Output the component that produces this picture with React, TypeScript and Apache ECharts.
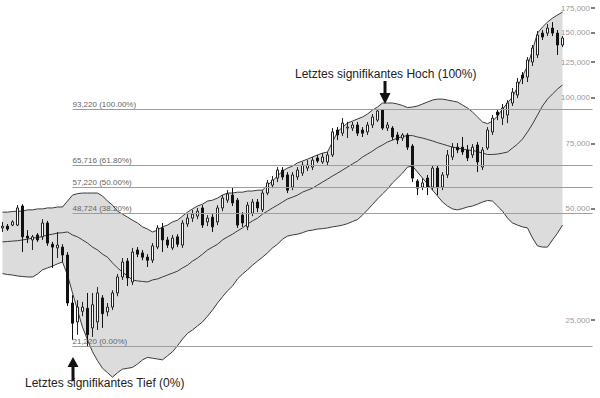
import React, { useEffect, useRef } from "react";
import * as echarts from "echarts";

// OHLC candles: [open, close, low, high]
const candles: number[][] = [
  [44400, 44900, 43300, 46100], [44900, 44100, 43600, 45500], [45200, 46100, 44900, 46600], [45200, 50300, 44900, 51200],
  [50900, 42000, 38200, 51500], [42200, 41700, 40400, 43800], [41200, 42000, 38700, 42500], [42500, 41200, 40700, 43000],
  [42000, 45800, 41200, 46900], [45800, 40400, 39700, 46400], [40100, 39400, 34600, 40700], [39200, 39900, 36800, 43300],
  [39400, 37500, 35900, 40100], [37500, 27800, 27300, 38200], [27800, 24500, 22100, 29200], [24700, 27100, 22800, 28300],
  [26400, 27100, 25600, 28000], [26900, 22800, 21220, 29600], [23800, 27500, 22500, 29600], [24700, 29600, 23500, 30700],
  [28700, 26000, 23800, 29200], [26300, 27100, 25600, 27800], [27100, 29600, 26600, 30100], [29600, 32700, 29000, 33300],
  [32700, 35900, 32100, 36800], [36100, 32500, 30900, 36800], [31700, 38200, 31100, 39200], [38700, 37700, 37000, 39400],
  [38000, 37000, 36300, 38700], [37000, 36300, 34800, 37700], [36300, 39700, 35700, 40400], [39400, 44400, 38900, 45200],
  [44400, 41200, 38200, 45800], [41200, 39900, 39200, 42000], [39200, 41700, 38700, 42500], [42000, 40100, 39400, 42700],
  [39900, 45800, 39200, 46600], [45500, 47200, 44700, 48400], [47200, 48400, 46100, 49700], [47800, 49300, 46900, 50300],
  [50300, 45200, 44400, 51200], [46100, 47200, 44900, 48100], [47500, 44700, 43300, 48400], [46100, 50300, 45200, 51200],
  [50300, 53500, 49300, 54500], [52800, 54900, 51900, 56200], [54500, 51900, 50900, 57300], [52800, 45200, 44400, 53500],
  [48100, 45800, 44700, 49000], [44700, 51200, 43800, 52200], [48700, 52200, 47800, 53200], [52200, 50300, 49000, 53200],
  [49700, 55200, 49000, 56200], [55200, 58800, 54500, 59900], [58000, 59900, 56900, 61400], [60600, 63700, 59100, 64900],
  [63700, 61000, 59900, 64900], [61800, 56200, 55200, 62900], [57300, 61800, 56200, 62900], [61000, 63700, 59900, 64900],
  [62500, 65700, 61400, 67000], [64500, 65700, 63300, 67800], [64900, 67800, 63700, 69100], [68700, 67400, 66600, 70000],
  [67000, 69100, 66200, 70800], [67000, 70000, 65700, 71300], [70000, 80800, 69100, 82800], [81800, 79300, 76800, 83300],
  [80200, 85400, 78800, 88100], [82800, 83300, 77800, 86000], [82800, 84400, 81300, 86000], [84400, 80200, 78800, 86000],
  [81800, 80200, 78300, 83300], [80800, 84400, 79300, 86000], [84400, 88700, 82800, 90400], [87000, 92100, 86000, 92600],
  [92600, 82800, 81800, 93220], [82800, 84400, 81300, 86000], [82800, 78300, 76800, 83800], [79300, 76800, 74900, 80800],
  [77800, 79300, 76400, 80200], [79300, 73500, 72200, 80200], [74000, 60600, 59100, 74900], [59500, 56900, 54500, 60200],
  [57300, 58800, 56200, 60600], [60600, 57300, 54500, 61800], [57300, 64500, 56200, 65700], [64500, 57300, 54500, 65700],
  [57300, 61800, 56200, 62900], [61800, 70000, 60600, 72200], [69100, 73500, 67800, 75400], [73500, 72200, 70800, 75400],
  [73500, 71300, 70000, 78300], [72200, 68700, 67400, 74500], [70000, 73500, 68700, 74900], [74500, 67000, 62900, 75900],
  [64900, 72200, 63700, 73500], [73100, 81800, 72200, 83300], [80800, 88100, 79300, 89800], [91500, 89800, 87000, 93200],
  [88100, 93800, 84400, 96200], [89800, 96800, 85400, 98600], [96800, 103600, 95000, 106300], [101700, 110300, 99800, 113100],
  [115200, 113100, 108900, 117400], [113800, 126600, 110300, 128900], [125000, 136400, 121900, 139000], [130600, 147900, 128100, 151600],
  [149700, 146100, 143400, 152600], [149700, 154500, 147000, 158400], [154500, 149700, 147000, 160400], [149700, 139000, 130600, 152600],
  [139000, 145200, 137200, 147000],
];

const upperBand: number[] = [
  49000, 49000, 49200, 49300, 49300, 49700, 49700, 50000, 50000, 50300, 50300, 50600, 50600, 52500, 54500, 55000,
  55200, 55200, 55200, 55200, 54200, 52500, 51200, 49300, 48400, 47500, 46600, 45800, 44700, 44100, 43300, 43800,
  44700, 45200, 46100, 46600, 47800, 49000, 50000, 50900, 51500, 52500, 52800, 53500, 54500, 55200, 55200, 55500,
  55500, 55900, 55900, 56200, 56200, 58000, 59500, 61400, 63300, 64500, 65300, 66600, 67400, 68200, 69100, 70000,
  70800, 71300, 75900, 80800, 83300, 85400, 86500, 87600, 88700, 90400, 92600, 94400, 96800, 96800, 96800, 96200,
  95300, 94100, 94400, 95000, 96200, 97400, 98600, 99200, 99200, 98600, 98000, 97400, 95600, 93800, 91500, 88700,
  86000, 85100, 86500, 89200, 93200, 96800, 100500, 106900, 114500, 121900, 134700, 149700, 155500, 160400, 164400, 167600,
  170700,
];

const middleBand: number[] = [
  40700, 40800, 40900, 41000, 41200, 41400, 41700, 41800, 42100, 42500, 42700, 43000, 43100, 43300, 42500, 42000,
  41200, 40400, 39400, 38700, 37700, 37000, 35700, 34600, 33700, 32900, 32100, 31900, 31800, 31700, 32100, 32300,
  32700, 33100, 33500, 33900, 34600, 35200, 36100, 36800, 37700, 38700, 39400, 40100, 41200, 42000, 42700, 43600,
  44400, 45500, 46400, 47200, 48400, 49300, 50300, 51200, 52200, 53200, 53800, 54500, 55500, 56200, 56900, 58000,
  59100, 60200, 61400, 62500, 63700, 64900, 66200, 67400, 69100, 70400, 71700, 73300, 74500, 75900, 76800, 77800,
  78500, 79000, 79000, 78300, 77800, 77100, 76400, 75600, 74900, 74200, 73500, 73100, 72600, 72200, 72000, 71500,
  70800, 70200, 70200, 70400, 70800, 71300, 73100, 74900, 77300, 80800, 84900, 89800, 95000, 99200, 102400, 105600,
  108300,
];

const lowerBand: number[] = [
  33400, 33200, 33100, 32900, 32800, 32700, 32700, 33300, 34200, 34600, 35000, 35500, 35900, 33100, 29600, 26600,
  23900, 22100, 20500, 19400, 18500, 18000, 17500, 18000, 18400, 18500, 18600, 19000, 19500, 19800, 19700, 19600,
  19500, 20000, 20500, 21300, 22200, 23000, 23500, 24100, 24700, 25600, 26600, 27800, 28900, 30000, 30900, 32300,
  33300, 34200, 35200, 36100, 37000, 38000, 39200, 40100, 41400, 42200, 42500, 42700, 43100, 43600, 43800, 44100,
  44200, 44400, 44700, 44900, 45200, 45600, 46200, 46800, 48100, 49700, 51400, 53200, 54900, 56600, 58800, 60600,
  62500, 64900, 65300, 62900, 60600, 58400, 56200, 54200, 52200, 50900, 50000, 49700, 50100, 50600, 50900, 51500,
  52200, 52700, 52500, 50900, 49300, 47200, 45800, 45200, 44700, 44400, 41700, 39700, 39400, 39400, 41200, 43000,
  45200,
];

const fibValues = [93220, 65716, 57220, 48724, 21220];
const fibLabels = ["93,220 (100.00%)", "65,716 (61.80%)", "57,220 (50.00%)", "48,724 (38.20%)", "21,220 (0.00%)"];
const yTickValues = [25000, 50000, 75000, 100000, 125000, 150000, 175000];
const categoryCount = 119;
const categories = Array.from({ length: categoryCount }, (_, i) => "W" + (i + 1));
const fibStartIndex = 14;

const FONT = '"Liberation Sans", Arial, sans-serif';

export default function App() {
  const ref = useRef<HTMLDivElement>(null);
  useEffect(() => {
    if (!ref.current) return;
    const chart = echarts.init(ref.current, null, { renderer: "svg" });
    const bandWidth = upperBand.map((u, i) => u - lowerBand[i]);
    const bandLine = { color: "#3a3a3a", width: 1 };
    chart.setOption({
      animation: false,
      backgroundColor: "#ffffff",
      textStyle: { fontFamily: FONT },
      grid: { left: 0, right: 5, top: 0, bottom: 0 },
      xAxis: {
        type: "category",
        data: categories,
        boundaryGap: true,
        show: false,
      },
      yAxis: {
        type: "log",
        logBase: 10,
        min: 15370,
        max: 184050,
        position: "right",
        z: 10,
        axisLine: { show: false },
        splitLine: { show: false },
        minorTick: { show: false },
        axisTick: {
          show: true,
          inside: true,
          length: 4,
          customValues: yTickValues,
          lineStyle: { color: "#555", width: 1.5 },
        },
        axisLabel: {
          inside: true,
          margin: 5,
          customValues: yTickValues,
          color: "#9a9a9a",
          fontSize: 8,
          fontFamily: FONT,
          formatter: (v: number) => Math.round(v).toLocaleString("en-US"),
        },
      },
      series: [
        {
          name: "lower",
          type: "line",
          data: lowerBand,
          stack: "bb",
          symbol: "none",
          lineStyle: bandLine,
          z: 1,
        },
        {
          name: "upper",
          type: "line",
          data: bandWidth,
          stack: "bb",
          symbol: "none",
          lineStyle: bandLine,
          areaStyle: { color: "#dcdcdc", opacity: 1 },
          z: 1,
        },
        {
          name: "middle",
          type: "line",
          data: middleBand,
          symbol: "none",
          lineStyle: bandLine,
          z: 2,
        },
        {
          name: "price",
          type: "candlestick",
          data: candles,
          barWidth: 3,
          z: 3,
          itemStyle: {
            color: "#ffffff",
            color0: "#111111",
            borderColor: "#222222",
            borderColor0: "#111111",
            borderWidth: 1,
          },
          markLine: {
            silent: true,
            symbol: ["none", "none"],
            lineStyle: { color: "#9d9d9d", width: 1, type: "solid" },
            label: {
              show: true,
              position: "insideStartTop",
              color: "#666",
              fontSize: 8,
              fontFamily: FONT,
              distance: [0, 1],
            },
            data: fibValues.map((v, i) => [
              { coord: [fibStartIndex, v], label: { formatter: fibLabels[i] } },
              { coord: [categoryCount - 1, v] },
            ]),
          },
        },
      ],
      graphic: [
        {
          type: "polygon",
          shape: {
            points: [[383.5, 81], [386.5, 81], [386.5, 93], [390.5, 93], [385, 104], [379.5, 93], [383.5, 93]],
          },
          style: { fill: "#111" },
          z: 10,
        },
        {
          type: "polygon",
          shape: {
            points: [[73, 357], [78.5, 367], [74.5, 367], [74.5, 381], [71.5, 381], [71.5, 367], [67.5, 367]],
          },
          style: { fill: "#111" },
          z: 10,
        },
        {
          type: "text",
          x: 295,
          y: 74,
          style: {
            text: "Letztes signifikantes Hoch (100%)",
            fill: "#222",
            fontSize: 12,
            fontFamily: FONT,
            align: "left",
            verticalAlign: "middle",
          },
          z: 10,
        },
        {
          type: "text",
          x: 25,
          y: 383,
          style: {
            text: "Letztes signifikantes Tief (0%)",
            fill: "#222",
            fontSize: 12,
            fontFamily: FONT,
            align: "left",
            verticalAlign: "middle",
          },
          z: 10,
        },
      ],
    });
    return () => chart.dispose();
  }, []);
  return (
    <div
      ref={ref}
      style={{ position: "absolute", left: 0, top: 0, width: 600, height: 398, background: "#fff" }}
    />
  );
}
